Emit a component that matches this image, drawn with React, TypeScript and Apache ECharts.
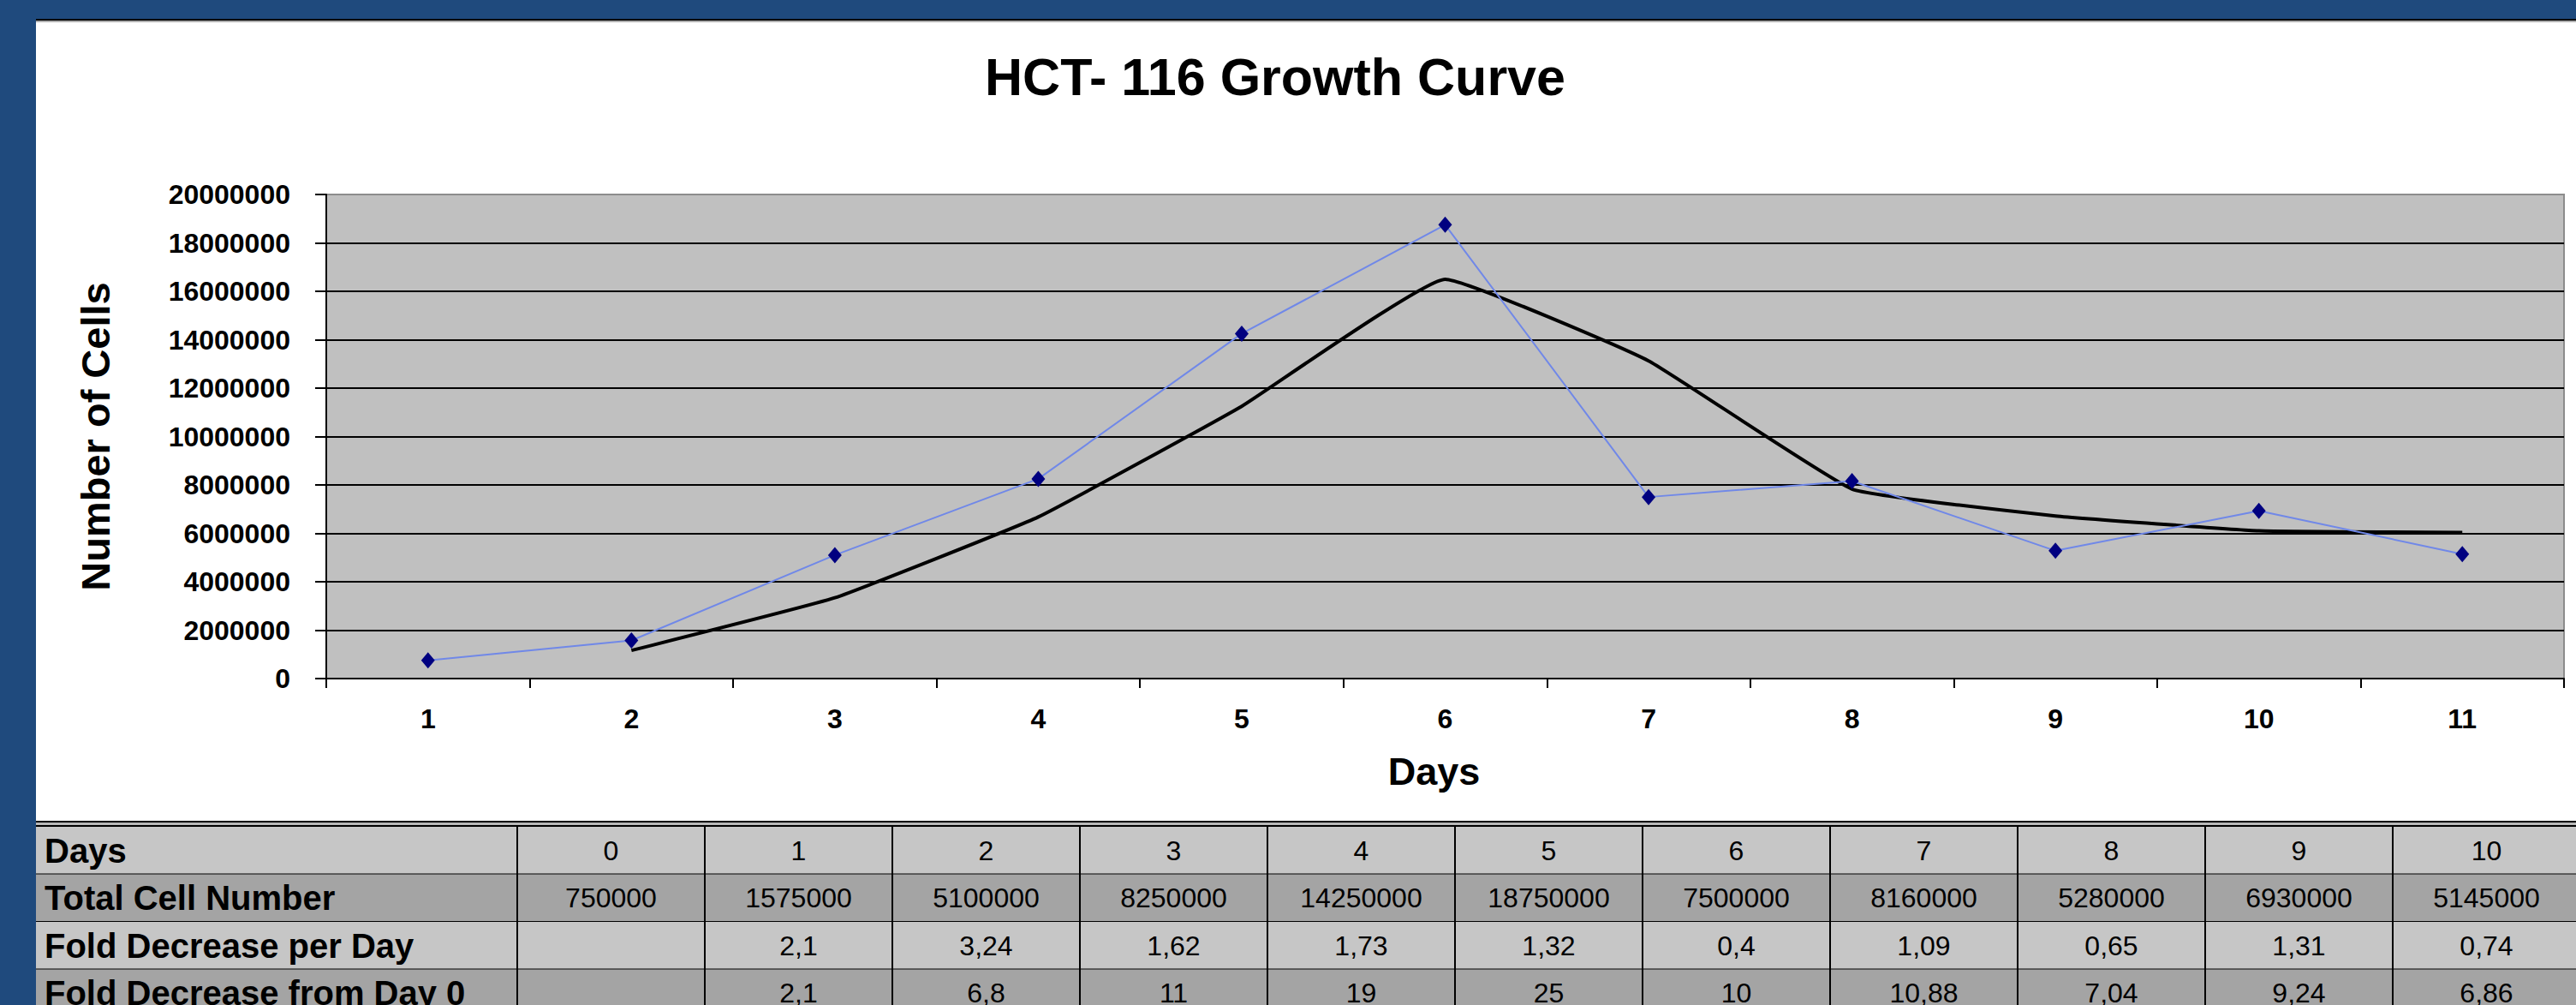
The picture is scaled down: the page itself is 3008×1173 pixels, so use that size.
import React, { useEffect, useRef } from 'react';
import * as echarts from 'echarts';

const FONT = '"Liberation Sans", Arial, Helvetica, sans-serif';

// Chart data
const dayLabels = ['1', '2', '3', '4', '5', '6', '7', '8', '9', '10', '11'];
const cellCounts = [750000, 1575000, 5100000, 8250000, 14250000, 18750000, 7500000, 8160000, 5280000, 6930000, 5145000];
const movingAverage = [null, 1162500, 3337500, 6675000, 11250000, 16500000, 13125000, 7830000, 6720000, 6105000, 6037500];

// Table data
const rowLabels = ['Days', 'Total Cell Number', 'Fold Decrease per Day', 'Fold Decrease from Day 0'];
const tableDays = ['0', '1', '2', '3', '4', '5', '6', '7', '8', '9', '10'];
const totalCellNumber = ['750000', '1575000', '5100000', '8250000', '14250000', '18750000', '7500000', '8160000', '5280000', '6930000', '5145000'];
const foldPerDay = ['', '2,1', '3,24', '1,62', '1,73', '1,32', '0,4', '1,09', '0,65', '1,31', '0,74'];
const foldFromDay0 = ['', '2,1', '6,8', '11', '19', '25', '10', '10,88', '7,04', '9,24', '6,86'];

const W = 3008;
const H = 1173;
const BLUE = '#1f4a7d';

function buildGraphic() {
  const els: any[] = [];
  // frame
  els.push({ type: 'rect', shape: { x: 0, y: 0, width: 42, height: H }, style: { fill: BLUE }, silent: true });
  els.push({ type: 'rect', shape: { x: 0, y: 0, width: W, height: 22 }, style: { fill: BLUE }, silent: true });
  els.push({ type: 'rect', shape: { x: 42, y: 22, width: W - 42, height: 2 }, style: { fill: '#000' }, silent: true });
  els.push({ type: 'rect', shape: { x: 42, y: 24, width: W - 42, height: 2 }, style: { fill: '#b0b0b0' }, silent: true });

  // title
  els.push({
    type: 'text', x: 1489, y: 90,
    style: {
      text: 'HCT- 116 Growth Curve', fill: '#000', fontSize: 61, fontWeight: 'bold', fontFamily: FONT,
      align: 'center', verticalAlign: 'middle', textAlign: 'center', textVerticalAlign: 'middle',
    },
  });

  // table
  const tableTop = 958;
  const rowTop = 965;
  const rowH = 55.5;
  const col0 = 42;
  const colStart = 604;
  const colW = 219;
  const fills = ['#c6c6c6', '#a4a4a4', '#c6c6c6', '#a4a4a4'];
  const rows = [tableDays, totalCellNumber, foldPerDay, foldFromDay0];

  els.push({ type: 'rect', shape: { x: col0, y: tableTop, width: W - col0, height: 2 }, style: { fill: '#000' }, silent: true });
  els.push({ type: 'rect', shape: { x: col0, y: tableTop + 2, width: W - col0, height: 3 }, style: { fill: '#b8b8b8' }, silent: true });
  els.push({ type: 'rect', shape: { x: col0, y: tableTop + 5, width: W - col0, height: 2 }, style: { fill: '#000' }, silent: true });

  rows.forEach((row, r) => {
    const y0 = rowTop + r * rowH;
    els.push({ type: 'rect', shape: { x: col0, y: y0, width: W - col0, height: rowH }, style: { fill: fills[r] }, silent: true });
    els.push({ type: 'rect', shape: { x: col0, y: y0 + rowH - 1, width: W - col0, height: 2 }, style: { fill: '#000' }, silent: true });
    els.push({
      type: 'text', x: 52, y: y0 + rowH / 2,
      style: {
        text: rowLabels[r], fill: '#000', fontSize: 40, fontWeight: 'bold', fontFamily: FONT,
        align: 'left', verticalAlign: 'middle', textAlign: 'left', textVerticalAlign: 'middle',
      },
    });
    row.forEach((v, c) => {
      if (!v) return;
      els.push({
        type: 'text', x: colStart + c * colW + colW / 2, y: y0 + rowH / 2,
        style: {
          text: v, fill: '#000', fontSize: 32, fontFamily: FONT,
          align: 'center', verticalAlign: 'middle', textAlign: 'center', textVerticalAlign: 'middle',
        },
      });
    });
  });
  for (let c = 0; c < tableDays.length; c++) {
    els.push({ type: 'rect', shape: { x: colStart + c * colW - 1, y: rowTop, width: 2, height: H - rowTop }, style: { fill: '#000' }, silent: true });
  }
  return els;
}

const splitColors = ['#000', '#000', '#000', '#000', '#000', '#000', '#000', '#000', '#000', '#000', '#8c8c8c'];

const option: any = {
  animation: false,
  backgroundColor: '#ffffff',
  textStyle: { fontFamily: FONT },
  grid: {
    left: 381, top: 227, width: 2613, height: 565,
    show: true, backgroundColor: '#c0c0c0', borderColor: '#8c8c8c', borderWidth: 2,
    containLabel: false, outerBoundsMode: 'none',
  },
  xAxis: {
    type: 'category',
    data: dayLabels,
    boundaryGap: true,
    name: 'Days',
    nameLocation: 'middle',
    nameGap: 86,
    nameTextStyle: { fontSize: 45, fontWeight: 'bold', color: '#000', fontFamily: FONT, padding: [0, 26, 0, 0] },
    axisLine: { show: true, lineStyle: { color: '#000', width: 2 } },
    axisTick: { show: true, length: 11, alignWithLabel: false, lineStyle: { color: '#000', width: 2 } },
    axisLabel: { fontSize: 32, fontWeight: 'bold', color: '#000', margin: 31, fontFamily: FONT },
    splitLine: { show: false },
  },
  yAxis: {
    type: 'value',
    min: 0,
    max: 20000000,
    interval: 2000000,
    name: 'Number of Cells',
    nameLocation: 'middle',
    nameGap: 246,
    nameTextStyle: { fontSize: 47, fontWeight: 'bold', color: '#000', fontFamily: FONT },
    axisLine: { show: true, lineStyle: { color: '#000', width: 2 } },
    axisTick: { show: true, length: 13, lineStyle: { color: '#000', width: 2 } },
    axisLabel: { fontSize: 32, fontWeight: 'bold', color: '#000', margin: 42, fontFamily: FONT, formatter: (v: number) => String(v) },
    splitLine: { show: true, lineStyle: { color: splitColors, width: 2 } },
  },
  series: [
    {
      name: 'Total Cell Number',
      type: 'line',
      data: movingAverage,
      symbol: 'none',
      smooth: 0.1,
      connectNulls: false,
      lineStyle: { color: '#000', width: 4 },
      z: 2,
    },
    {
      name: 'Total Cell Number',
      type: 'line',
      data: cellCounts,
      symbol: 'diamond',
      symbolSize: [16, 19],
      itemStyle: { color: '#000080' },
      lineStyle: { color: '#7088e8', width: 2 },
      z: 3,
    },
  ],
  graphic: buildGraphic(),
};

export default function App() {
  const ref = useRef<HTMLDivElement>(null);
  useEffect(() => {
    const chart = echarts.init(ref.current as HTMLDivElement, null, { renderer: 'svg' });
    chart.setOption(option);
    return () => chart.dispose();
  }, []);
  return (
    <div
      ref={ref}
      style={{ position: 'fixed', left: 0, top: 0, width: W, height: H, background: '#ffffff' }}
    />
  );
}
